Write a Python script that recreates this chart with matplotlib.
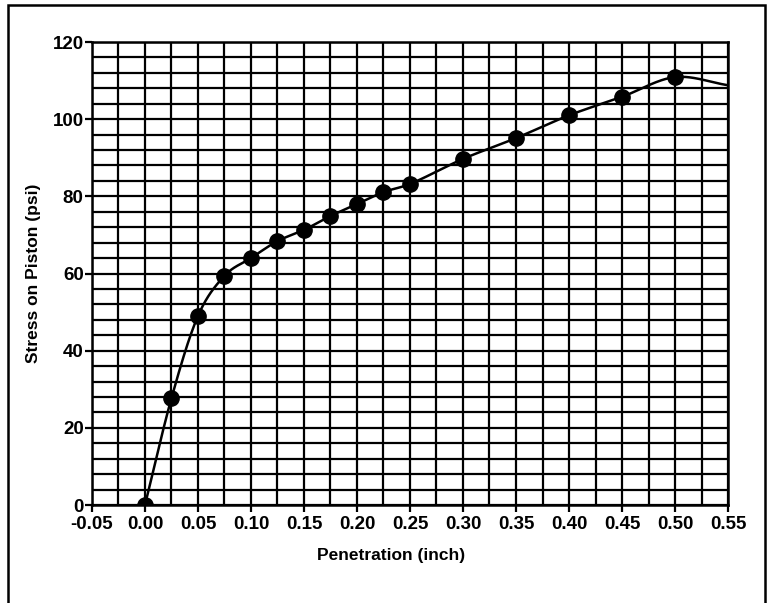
import numpy as np
import matplotlib.pyplot as plt
from matplotlib.patches import Rectangle

# measured points (penetration in inch, stress in psi)
penetration = [0.0, 0.025, 0.05, 0.075, 0.10, 0.125, 0.15, 0.175, 0.20,
               0.225, 0.25, 0.30, 0.35, 0.40, 0.45, 0.50]
stress = [0.0, 27.7, 49.0, 59.4, 64.0, 68.4, 71.3, 74.9, 78.0,
          81.1, 83.2, 89.7, 95.1, 101.0, 105.8, 110.9]

# end of the smoothed curve, drawn past the last marker
tail_x = [0.55]
tail_y = [108.8]

xticks = [-0.05, 0.00, 0.05, 0.10, 0.15, 0.20, 0.25, 0.30, 0.35, 0.40, 0.45, 0.50, 0.55]
yticks = [0, 20, 40, 60, 80, 100, 120]


def smooth(xs, ys, n=40):
    # cubic Hermite through the points, slopes from neighbouring points
    xs = np.asarray(xs, float)
    ys = np.asarray(ys, float)
    m = np.empty_like(ys)
    m[1:-1] = (ys[2:] - ys[:-2]) / (xs[2:] - xs[:-2])
    m[0] = (ys[1] - ys[0]) / (xs[1] - xs[0])
    m[-1] = (ys[-1] - ys[-2]) / (xs[-1] - xs[-2])
    outx, outy = [], []
    t = np.linspace(0, 1, n)
    for i in range(len(xs) - 1):
        h = xs[i + 1] - xs[i]
        h00 = 2 * t**3 - 3 * t**2 + 1
        h10 = t**3 - 2 * t**2 + t
        h01 = -2 * t**3 + 3 * t**2
        h11 = t**3 - t**2
        outx.extend(xs[i] + t * h)
        outy.extend(h00 * ys[i] + h10 * h * m[i] + h01 * ys[i + 1] + h11 * h * m[i + 1])
    return np.array(outx), np.array(outy)


plt.rcParams['font.family'] = ['Liberation Sans', 'DejaVu Sans']

fig = plt.figure(figsize=(7.69, 6.03), dpi=100)
ax = fig.add_axes([0.1196, 0.1625, 0.8271, 0.7678])

cx, cy = smooth(penetration + tail_x, stress + tail_y)
ax.plot(cx, cy, color='black', lw=1.8, zorder=3)
ax.plot(penetration, stress, 'o', color='black', markersize=11, zorder=4)

ax.set_xlim(-0.05, 0.55)
ax.set_ylim(0, 120)
ax.set_xticks(xticks)
ax.set_xticklabels([f'{v:.2f}' for v in xticks])
ax.set_yticks(yticks)
ax.set_xticks(np.arange(-0.05, 0.551, 0.025), minor=True)
ax.set_yticks(np.arange(0, 121, 4), minor=True)
ax.grid(True, which='both', color='black', lw=1.6)
ax.tick_params(which='minor', length=0)
ax.tick_params(which='major', length=5, width=1.6, direction='out',
               labelsize=13.5)
ax.tick_params(axis='y', which='major', pad=1)
ax.tick_params(axis='x', which='major', pad=3)
for lab in ax.get_xticklabels() + ax.get_yticklabels():
    lab.set_fontweight('bold')
for s in ax.spines.values():
    s.set_linewidth(1.8)

ax.set_xlabel('Penetration (inch)', fontsize=12.5, fontweight='bold')
ax.xaxis.set_label_coords(0.47, -0.093)
ax.set_ylabel('Stress on Piston (psi)', fontsize=12.5, fontweight='bold', labelpad=8)

# scanned page frame
fig.patches.append(Rectangle((0.0104, -0.02), 0.9844, 1.0117, transform=fig.transFigure,
                             fill=False, edgecolor='black', lw=1.8))

fig.savefig('out.png', dpi=100)
